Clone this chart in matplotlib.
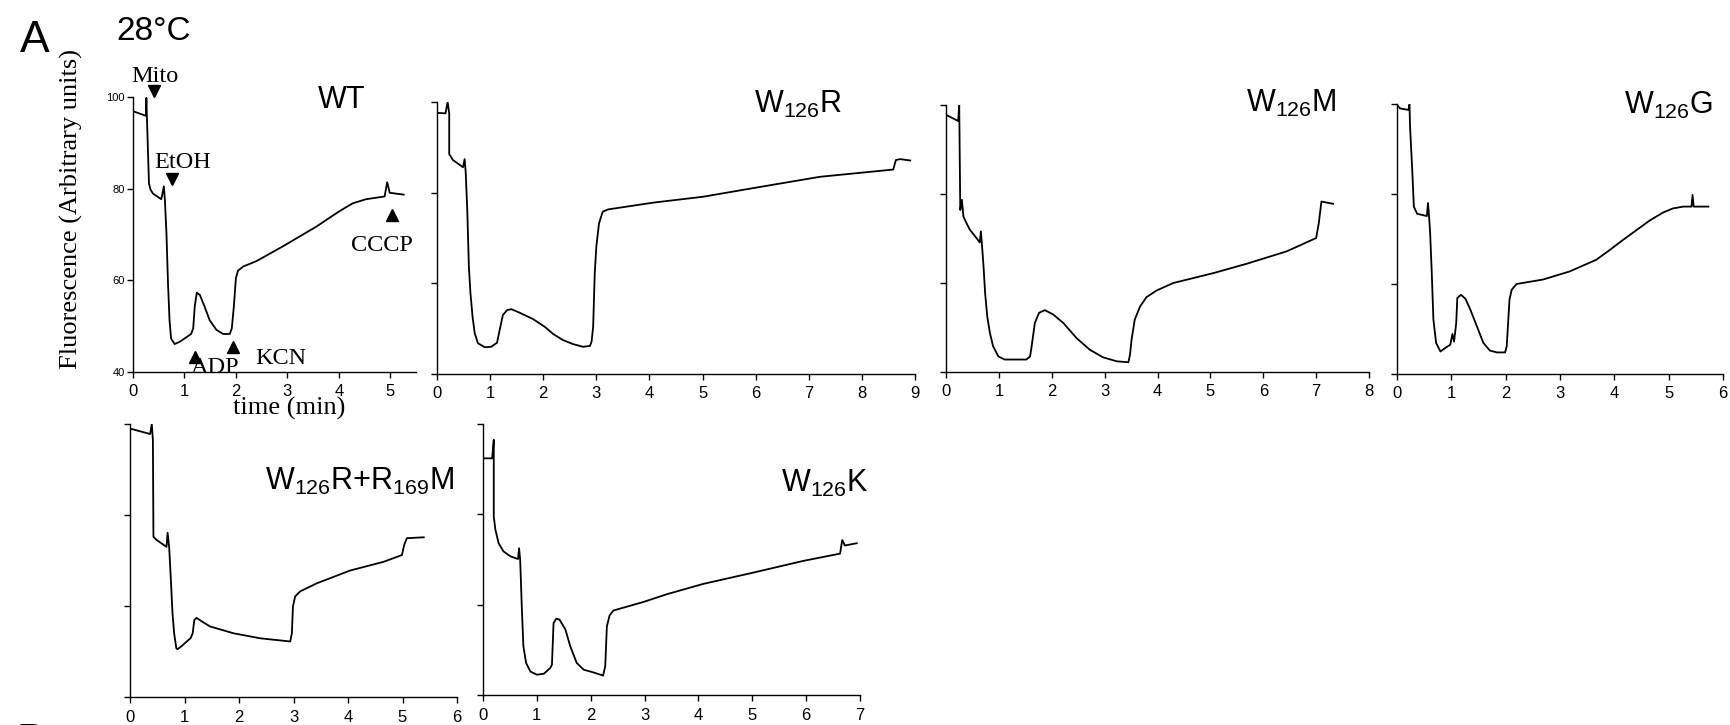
import matplotlib.pyplot as plt

plt.rcParams['font.family'] = ['Liberation Sans', 'DejaVu Sans']

W, H = 1730, 725

# traces: time (min), fluorescence (arbitrary units)
wt_t = [0, 0.25, 0.26, 0.27, 0.29, 0.31, 0.34, 0.39, 0.55, 0.6, 0.62, 0.65, 0.68, 0.71, 0.74, 0.81,
        0.91, 1.04, 1.13, 1.17, 1.2, 1.24, 1.3, 1.39, 1.49, 1.62, 1.75, 1.88, 1.92, 1.96, 2.0, 2.04,
        2.14, 2.4, 2.91, 3.56, 4.0, 4.27, 4.53, 4.89, 4.94, 4.99, 5.26]
wt_f = [96.9, 95.9, 99.8, 95.8, 88.5, 81.2, 79.8, 78.9, 77.7, 80.5, 77.5, 70.3, 59.4, 51.3, 47.3, 46.1,
        46.6, 47.6, 48.3, 49.5, 54.3, 57.3, 56.8, 54.3, 51.3, 49.2, 48.3, 48.3, 49.5, 54.3, 60.5, 62.1,
        63.0, 64.2, 67.4, 71.7, 75.0, 76.8, 77.7, 78.3, 81.4, 79.1, 78.7]

r_t = [0, 0.16, 0.2, 0.23, 0.23, 0.3, 0.49, 0.52, 0.54, 0.57, 0.6, 0.63, 0.67, 0.71, 0.77, 0.9,
       1.02, 1.13, 1.18, 1.24, 1.32, 1.4, 1.56, 1.81, 2.03, 2.19, 2.37, 2.56, 2.75, 2.88, 2.91, 2.94,
       2.97, 3.0, 3.05, 3.12, 3.22, 4.07, 5.01, 5.95, 7.21, 8.59, 8.64, 8.72, 8.91]
r_f = [97.6, 97.5, 100.0, 97.5, 88.5, 87.2, 85.6, 87.4, 84.6, 76.2, 63.7, 57.8, 52.6, 49.0, 46.8, 45.9,
       46.0, 46.9, 49.7, 53.0, 54.1, 54.3, 53.5, 52.1, 50.4, 48.8, 47.5, 46.6, 46.0, 46.2, 47.1, 50.4,
       62.2, 68.1, 73.2, 75.8, 76.3, 77.8, 79.1, 81.0, 83.5, 85.1, 87.2, 87.4, 87.1]

m_t = [0, 0.23, 0.25, 0.27, 0.3, 0.33, 0.39, 0.45, 0.55, 0.64, 0.66, 0.68, 0.71, 0.74, 0.78, 0.83,
       0.89, 0.99, 1.11, 1.52, 1.59, 1.62, 1.68, 1.76, 1.87, 2.03, 2.22, 2.47, 2.72, 2.97, 3.23, 3.45,
       3.48, 3.51, 3.57, 3.67, 3.79, 3.98, 4.3, 5.05, 5.68, 6.44, 7.0, 7.05, 7.1, 7.32]
m_f = [97.8, 96.4, 100.0, 76.4, 78.7, 74.9, 73.4, 72.0, 70.5, 69.1, 71.6, 68.6, 63.7, 57.7, 52.5, 48.8,
       45.8, 43.5, 42.8, 42.8, 43.5, 45.8, 51.0, 53.3, 53.9, 52.9, 51.0, 47.6, 45.0, 43.3, 42.4, 42.2,
       43.9, 47.3, 51.8, 54.7, 56.8, 58.3, 60.0, 62.2, 64.3, 67.1, 70.1, 73.4, 78.3, 77.8]

g_t = [0, 0.06, 0.21, 0.23, 0.24, 0.28, 0.31, 0.37, 0.55, 0.57, 0.59, 0.61, 0.64, 0.67, 0.72, 0.8,
       0.89, 0.98, 1.02, 1.05, 1.09, 1.11, 1.18, 1.26, 1.35, 1.47, 1.59, 1.71, 1.84, 1.99, 2.02, 2.07,
       2.11, 2.2, 2.69, 3.18, 3.67, 3.92, 4.16, 4.41, 4.65, 4.9, 5.08, 5.27, 5.42, 5.44, 5.46, 5.73]
g_f = [99.8, 99.0, 98.7, 99.9, 95.0, 85.4, 77.2, 75.6, 75.1, 78.0, 75.1, 71.3, 62.4, 52.1, 46.9, 45.0,
       45.8, 46.5, 48.9, 47.2, 51.3, 56.9, 57.6, 56.7, 54.3, 50.6, 46.9, 45.2, 44.8, 44.8, 46.2, 56.5,
       58.7, 60.0, 61.0, 62.8, 65.4, 67.6, 69.8, 72.0, 74.1, 75.9, 76.8, 77.2, 77.2, 79.8, 77.2, 77.2]

rm_t = [0, 0.37, 0.4, 0.42, 0.43, 0.49, 0.67, 0.69, 0.72, 0.75, 0.78, 0.81, 0.85, 0.87, 0.95, 1.04,
        1.11, 1.15, 1.18, 1.22, 1.32, 1.47, 1.9, 2.39, 2.94, 2.97, 2.99, 3.03, 3.12, 3.43, 4.04, 4.65,
        4.99, 5.03, 5.08, 5.39]
rm_f = [99.0, 97.8, 100.0, 96.5, 75.2, 74.5, 73.0, 76.1, 72.7, 65.7, 58.4, 54.0, 50.7, 50.5, 51.2, 52.2,
        52.9, 54.0, 56.9, 57.4, 56.6, 55.5, 54.0, 52.9, 52.2, 54.0, 59.9, 62.1, 63.2, 65.0, 67.8, 69.7,
        71.2, 73.4, 74.9, 75.1]

k_t = [0, 0.17, 0.2, 0.2, 0.23, 0.29, 0.38, 0.51, 0.65, 0.67, 0.69, 0.72, 0.75, 0.8, 0.88, 1.0,
       1.13, 1.25, 1.28, 1.31, 1.36, 1.42, 1.53, 1.62, 1.74, 1.87, 2.05, 2.23, 2.27, 2.3, 2.35, 2.42,
       2.98, 3.41, 4.09, 5.02, 5.95, 6.63, 6.67, 6.72, 6.94]
k_f = [92.4, 92.4, 96.5, 79.5, 76.6, 73.6, 71.8, 70.7, 70.1, 72.5, 70.0, 59.6, 50.8, 47.1, 45.2, 44.5,
       44.7, 46.0, 46.7, 55.9, 56.9, 56.7, 54.5, 50.8, 47.1, 45.6, 45.0, 44.3, 46.4, 55.2, 57.6, 58.7,
       60.6, 62.3, 64.6, 67.1, 69.7, 71.3, 74.3, 73.1, 73.6]

# additions marked on the WT trace: label, time, fluorescence at arrowhead
events = ['Mito', 'EtOH', 'ADP', 'KCN', 'CCCP']
event_t = [0.41, 0.76, 1.2, 1.94, 5.04]
event_f = [101.3, 82.1, 43.2, 45.4, 74.2]

fig = plt.figure(figsize=(W / 100, H / 100), dpi=100)


def box(l, t, r, b):
    return [l / W, 1 - b / H, (r - l) / W, (b - t) / H]


panels = [
    # title, t, f, xmax, (left, top, right, bottom) in px, title position
    (r'$\mathregular{WT}$', wt_t, wt_f, 5.5, (133, 97, 416, 372), (366, 100)),
    (r'$\mathregular{W_{126}R}$', r_t, r_f, 9, (437, 102, 915, 374), (842, 104)),
    (r'$\mathregular{W_{126}M}$', m_t, m_f, 8, (946, 105, 1369, 372), (1336, 103)),
    (r'$\mathregular{W_{126}G}$', g_t, g_f, 6, (1397, 104, 1723, 374), (1713, 105)),
    (r'$\mathregular{W_{126}R{+}R_{169}M}$', rm_t, rm_f, 6, (130, 424, 457, 697), (454, 481)),
    (r'$\mathregular{W_{126}K}$', k_t, k_f, 7, (483, 424, 860, 695), (869, 483)),
]

axes = []
for title, t, f, xmax, (l, tp, r, b), (tx, ty) in panels:
    ax = fig.add_axes(box(l, tp, r, b))
    ax.plot(t, f, color='black', lw=1.3)
    ax.set_xlim(0, xmax)
    ax.set_ylim(40, 100)
    ax.set_xticks(range(0, int(xmax) + 1))
    ax.set_yticks([40, 60, 80, 100])
    ax.set_yticklabels([])
    for s in ['top', 'right']:
        ax.spines[s].set_visible(False)
    for s in ['left', 'bottom']:
        ax.spines[s].set_linewidth(1.0)
    ax.tick_params(axis='x', length=4, width=1.0, pad=5, labelsize=12)
    ax.tick_params(axis='y', length=4, width=1.0, pad=2, labelsize=8)
    fig.text(tx / W, 1 - ty / H, title, fontsize=22, ha='right', va='center')
    axes.append(ax)

ax = axes[0]
ax.set_yticklabels(['40', '60', '80', '100'])

serif = 'Liberation Serif'
ax.plot(event_t[:2], event_f[:2], 'v', color='black', ms=8, clip_on=False)
ax.plot(event_t[2:], event_f[2:], '^', color='black', ms=8, clip_on=False)
label_pos = [(0.43, 104.4), (0.97, 85.8), (1.6, 41.0), (2.87, 43.0), (4.83, 67.5)]
for name, (x, y) in zip(events, label_pos):
    ax.text(x, y, name, family=serif, fontsize=17.5, ha='center', va='center', clip_on=False)

fig.text(71 / W, 1 - 209 / H, 'Fluorescence (Arbitrary units)', family=serif, fontsize=19,
         rotation=90, ha='center', va='center')
fig.text(289 / W, 1 - 408 / H, 'time (min)', family=serif, fontsize=19, ha='center', va='center')

fig.text(35 / W, 1 - 40 / H, 'A', fontsize=32, ha='center', va='center')
fig.text(154 / W, 1 - 32 / H, '28°C', fontsize=24, ha='center', va='center')
fig.text(31 / W, 1 - 723 / H, 'B', fontsize=32, ha='center', va='top')

fig.savefig('out.png', dpi=100)
